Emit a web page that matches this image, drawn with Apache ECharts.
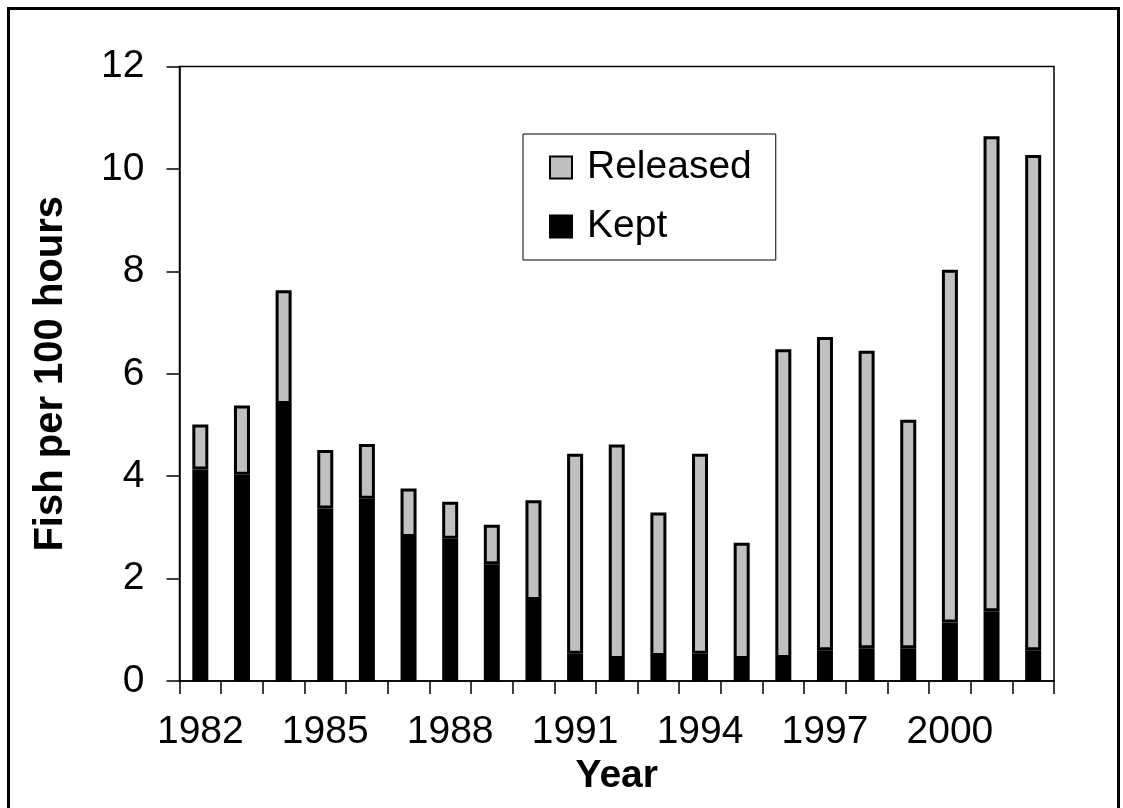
<!DOCTYPE html>
<html>
<head>
<meta charset="utf-8">
<script src="https://cdn.jsdelivr.net/npm/echarts@6/dist/echarts.min.js"></script>
<style>
html,body{margin:0;padding:0;background:#fff;}
#chart{width:1123px;height:808px;}
</style>
</head>
<body>
<div id="chart"></div>
<script>
var years = ['1982','1983','1984','1985','1986','1987','1988','1989','1990','1991','1992','1993','1994','1995','1996','1997','1998','1999','2000','2001','2002'];
var kept = [4.13, 4.03, 5.41, 3.37, 3.56, 2.81, 2.78, 2.28, 1.58, 0.53, 0.43, 0.49, 0.53, 0.43, 0.45, 0.60, 0.64, 0.64, 1.14, 1.36, 0.60];
var released = [0.88, 1.35, 2.22, 1.14, 1.07, 0.95, 0.72, 0.77, 1.95, 3.91, 4.19, 2.80, 3.91, 2.27, 6.03, 6.12, 5.81, 4.46, 6.89, 9.28, 9.67];
var yTicks = {min: 0, max: 12, interval: 2};

var FONT = 'Liberation Sans, Arial, sans-serif';
var chart = echarts.init(document.getElementById('chart'), null, {renderer: 'canvas'});
chart.setOption({
  animation: false,
  backgroundColor: '#fff',
  graphic: [{
    type: 'rect',
    shape: {x: 8.5, y: 8.5, width: 1110, height: 830},
    style: {fill: 'none', stroke: '#000', lineWidth: 3},
    silent: true
  }],
  grid: {
    left: 179.5, right: 69, top: 66.5, bottom: 127,
    show: true, borderColor: '#000', borderWidth: 1.5, backgroundColor: 'transparent'
  },
  legend: {
    data: ['Released', 'Kept'],
    orient: 'vertical',
    left: 523, top: 134,
    padding: [14, 24, 14, 26],
    itemWidth: 22, itemHeight: 22, itemGap: 20,
    borderColor: '#000', borderWidth: 1,
    icon: 'rect',
    itemStyle: {borderColor: '#000', borderWidth: 2},
    textStyle: {fontFamily: FONT, fontSize: 39, color: '#000', padding: [0, 0, 0, 10]}
  },
  xAxis: {
    type: 'category',
    data: years,
    boundaryGap: true,
    name: 'Year',
    nameLocation: 'middle',
    nameGap: 76,
    nameTextStyle: {fontFamily: FONT, fontSize: 39, fontWeight: 'bold', color: '#000'},
    axisLine: {lineStyle: {color: '#000', width: 1.5}},
    axisTick: {show: true, interval: 0, length: 13, inside: false, lineStyle: {color: '#000', width: 1.5}},
    axisLabel: {interval: 2, fontFamily: FONT, fontSize: 39, color: '#000', margin: 32},
    splitLine: {show: false}
  },
  yAxis: {
    type: 'value',
    min: yTicks.min, max: yTicks.max, interval: yTicks.interval,
    name: 'Fish per 100 hours',
    nameLocation: 'middle',
    nameGap: 109,
    nameRotate: 90,
    nameTextStyle: {fontFamily: FONT, fontSize: 40, fontWeight: 'bold', color: '#000'},
    axisLine: {show: true, lineStyle: {color: '#000', width: 1.5}},
    axisTick: {show: true, length: 13, inside: false, lineStyle: {color: '#000', width: 1.5}},
    axisLabel: {fontFamily: FONT, fontSize: 39, color: '#000', margin: 35},
    splitLine: {show: false}
  },
  series: [
    {
      name: 'Kept', type: 'bar', stack: 'total', data: kept, barWidth: 16,
      itemStyle: {color: '#000', borderColor: '#000', borderWidth: 3}
    },
    {
      name: 'Released', type: 'bar', stack: 'total', data: released, barWidth: 16,
      itemStyle: {color: '#c0c0c0', borderColor: '#000', borderWidth: 3}
    }
  ]
});
</script>
</body>
</html>
